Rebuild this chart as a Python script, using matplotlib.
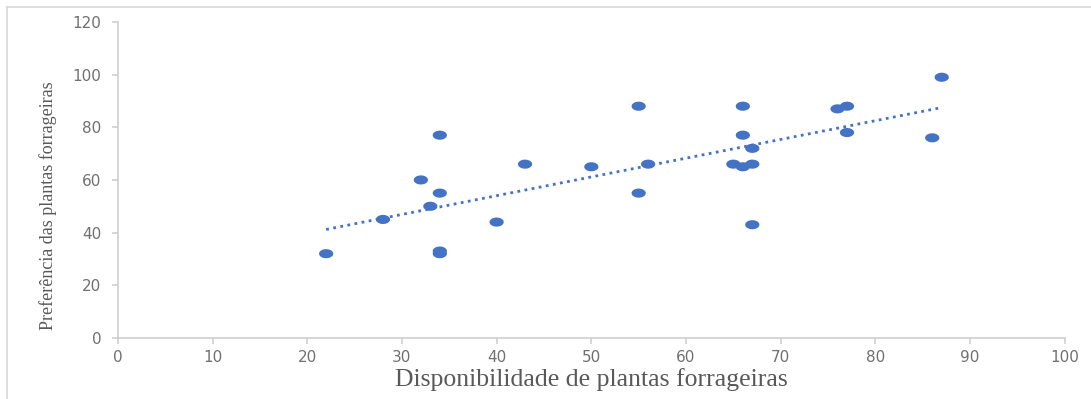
import numpy as np
import matplotlib
matplotlib.use("Agg")
import matplotlib.pyplot as plt
from matplotlib.path import Path
from matplotlib.lines import Line2D

# Data
disponibilidade = [22, 28, 32, 33, 34, 34, 34, 34, 40, 43, 50, 55, 55, 56,
                   65, 66, 66, 66, 67, 67, 67, 76, 77, 77, 86, 87]
preferencia = [32, 45, 60, 50, 77, 55, 33, 32, 44, 66, 65, 88, 55, 66,
               66, 88, 77, 65, 72, 66, 43, 87, 88, 78, 76, 99]
x_ticks = [0, 10, 20, 30, 40, 50, 60, 70, 80, 90, 100]
y_ticks = [0, 20, 40, 60, 80, 100, 120]
x_label = "Disponibilidade de plantas forrageiras"
y_label = "Preferência das plantas forrageiras"

blue = "#4472C4"
grid_gray = "#CFCFCF"
tick_gray = "#707070"
label_gray = "#595959"

fig = plt.figure(figsize=(10.91, 3.99), dpi=100)
ax = fig.add_axes([0.108, 0.153, 0.868, 0.792])

# elliptical marker (wider than tall)
t = np.linspace(0, 2 * np.pi, 40)
ell = Path(np.column_stack([1.0 * np.cos(t), 0.64 * np.sin(t)]))

x = np.array(disponibilidade, dtype=float)
y = np.array(preferencia, dtype=float)
ax.scatter(x, y, marker=ell, s=105, color=blue, edgecolors="none", zorder=3)

# linear trendline
m, b = np.polyfit(x, y, 1)
xl = np.array([x.min(), x.max()])
ax.plot(xl, m * xl + b, linestyle=(0, (1, 1.6)), color=blue, linewidth=2.0, zorder=2)

ax.set_xlim(0, 100)
ax.set_ylim(0, 120)
ax.set_xticks(x_ticks)
ax.set_yticks(y_ticks)
for s in ["top", "right"]:
    ax.spines[s].set_visible(False)
for s in ["left", "bottom"]:
    ax.spines[s].set_color(grid_gray)
    ax.spines[s].set_linewidth(1.2)
ax.tick_params(axis="both", colors=grid_gray, length=4, width=1.2,
               labelcolor=tick_gray, labelsize=11)
ax.tick_params(axis="x", pad=5)
ax.tick_params(axis="y", pad=8)

ax.set_xlabel(x_label, fontfamily="Liberation Serif", fontsize=18.5,
              color=label_gray, labelpad=2)
ax.set_ylabel(y_label, fontfamily="Liberation Serif", fontsize=13,
              color=label_gray)
ax.yaxis.set_label_coords(-0.064, 0.418)

# outer chart border (top and left visible)
fig.add_artist(Line2D([7 / 1091, 1.0], [1 - 7 / 399, 1 - 7 / 399],
                      transform=fig.transFigure, color="#D9D9D9", linewidth=1.2))
fig.add_artist(Line2D([7 / 1091, 7 / 1091], [0, 1 - 7 / 399],
                      transform=fig.transFigure, color="#D9D9D9", linewidth=1.2))

fig.savefig("out.png", dpi=100, facecolor="white")
